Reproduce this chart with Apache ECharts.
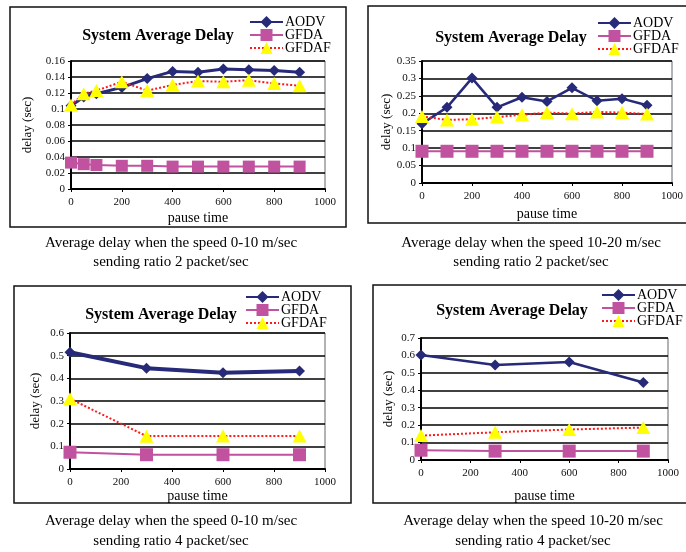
<!DOCTYPE html>
<html>
<head>
<meta charset="utf-8">
<script src="https://cdn.jsdelivr.net/npm/echarts@6/dist/echarts.min.js"></script>
<style>
  html, body { margin: 0; padding: 0; background: #fff; }
  #chart { width: 686px; height: 552px; }
</style>
</head>
<body>
<div id="chart"></div>
<script>
// Pause times (x values) for each scenario
const pause1 = [0, 50, 100, 200, 300, 400, 500, 600, 700, 800, 900];
const pause2 = [0, 100, 200, 300, 400, 500, 600, 700, 800, 900];
const pause3 = [0, 300, 600, 900];
const pause4 = [0, 300, 600, 900];

// Speed 0-10 m/sec, 2 packet/sec
const aodv1  = [0.104, 0.115, 0.119, 0.127, 0.138, 0.147, 0.146, 0.150, 0.149, 0.148, 0.146];
const gfda1  = [0.033, 0.031, 0.030, 0.029, 0.029, 0.028, 0.028, 0.028, 0.028, 0.028, 0.028];
const gfdaf1 = [0.105, 0.119, 0.123, 0.134, 0.123, 0.130, 0.135, 0.134, 0.136, 0.132, 0.129];

// Speed 10-20 m/sec, 2 packet/sec
const aodv2  = [0.170, 0.217, 0.301, 0.217, 0.246, 0.234, 0.273, 0.236, 0.242, 0.223];
const gfda2  = [0.091, 0.091, 0.091, 0.091, 0.091, 0.091, 0.091, 0.091, 0.091, 0.091];
const gfdaf2 = [0.191, 0.181, 0.183, 0.189, 0.196, 0.202, 0.199, 0.204, 0.202, 0.198];

// Speed 0-10 m/sec, 4 packet/sec
const aodv3  = [0.515, 0.445, 0.425, 0.432];
const gfda3  = [0.074, 0.063, 0.063, 0.063];
const gfdaf3 = [0.310, 0.145, 0.146, 0.146];

// Speed 10-20 m/sec, 4 packet/sec
const aodv4  = [0.602, 0.545, 0.562, 0.445];
const gfda4  = [0.056, 0.051, 0.051, 0.051];
const gfdaf4 = [0.140, 0.159, 0.175, 0.186];

// Axis ranges
const yMax      = [0.16, 0.35, 0.6, 0.7];
const yInterval = [0.02, 0.05, 0.1, 0.1];
const xMax = 1000, xInterval = 200;

const seriesNames = ['AODV', 'GFDA', 'GFDAF'];
const chartTitle = 'System Average Delay';
const xName = 'pause time';
const yName = 'delay (sec)';
const captions = [
  ['Average delay when the speed 0-10 m/sec', 'sending ratio 2 packet/sec'],
  ['Average delay when the speed 10-20 m/sec', 'sending ratio 2 packet/sec'],
  ['Average delay when the speed 0-10 m/sec', 'sending ratio 4 packet/sec'],
  ['Average delay when the speed 10-20 m/sec', 'sending ratio 4 packet/sec']
];

const panels = [
  { x: pause1, aodv: aodv1, gfda: gfda1, gfdaf: gfdaf1 },
  { x: pause2, aodv: aodv2, gfda: gfda2, gfdaf: gfdaf2 },
  { x: pause3, aodv: aodv3, gfda: gfda3, gfdaf: gfdaf3 },
  { x: pause4, aodv: aodv4, gfda: gfda4, gfdaf: gfdaf4 }
];

// Layout of each panel (pixels)
const grids = [
  { left: 71,  top: 61,  width: 254, height: 128 },
  { left: 422, top: 61,  width: 256, height: 122 },
  { left: 70,  top: 333, width: 255, height: 136 },
  { left: 421, top: 338, width: 247, height: 122 }
];
const frames = [
  { x: 10,  y: 7,   w: 336, h: 220 },
  { x: 368, y: 6,   w: 330, h: 217 },
  { x: 14,  y: 286, w: 337, h: 217 },
  { x: 373, y: 285, w: 330, h: 218 }
];
const titlePos  = [[153, 23], [506, 25], [156, 302], [507, 298]];
const legendPos = [[249, 15], [597, 16], [245, 290], [601, 288]];
const captionPos = [[171, 243, 262], [531, 243, 262], [171, 521, 541], [533, 521, 541]];
const xNameGap = [22, 24, 20, 29];
const yNameGap = [37, 27, 28, 26];
const aodvWidth = [3, 2.5, 4, 2.5];
const squareSize = [12, 13, 13, 13];

const SERIF = '"Liberation Serif", "Times New Roman", serif';
const NAVY = '#262a78', PINK = '#c0529f', RED = '#ff1a1a', YELLOW = '#ffff00';

const pairs = (xs, ys) => xs.map((x, i) => [x, ys[i]]);

const option = {
  animation: false,
  backgroundColor: '#fff',
  textStyle: { fontFamily: SERIF },
  grid: grids.map(g => Object.assign({ show: true, borderColor: '#666', borderWidth: 1 }, g)),
  title: titlePos.map(p => ({
    text: chartTitle, left: p[0], top: p[1], textAlign: 'center',
    textStyle: { fontFamily: SERIF, fontSize: 16, fontWeight: 'bold', color: '#000' }
  })),
  legend: legendPos.map(p => ({
    data: seriesNames, left: p[0], top: p[1], orient: 'vertical',
    itemWidth: 33, itemHeight: 15, itemGap: -1, padding: 0,
    selectedMode: false,
    textStyle: { fontFamily: SERIF, fontSize: 14, color: '#000', padding: [0, 0, 0, -3] }
  })),
  xAxis: grids.map((g, i) => ({
    type: 'value', gridIndex: i, min: 0, max: xMax, interval: xInterval,
    name: xName, nameLocation: 'middle', nameGap: xNameGap[i],
    nameTextStyle: { fontFamily: SERIF, fontSize: 14, color: '#000' },
    axisLine: { lineStyle: { color: '#000', width: 2 } },
    axisTick: { show: true, length: 3, lineStyle: { color: '#000' } },
    axisLabel: { fontFamily: SERIF, fontSize: 11, color: '#111', margin: 8, formatter: v => String(v) },
    splitLine: { show: false }
  })),
  yAxis: grids.map((g, i) => ({
    type: 'value', gridIndex: i, min: 0, max: yMax[i], interval: yInterval[i],
    name: yName, nameLocation: 'middle', nameGap: yNameGap[i],
    nameTextStyle: { fontFamily: SERIF, fontSize: 13, color: '#000' },
    axisLine: { show: true, lineStyle: { color: '#000', width: 2 } },
    axisTick: { show: true, length: 3, lineStyle: { color: '#000' } },
    axisLabel: { fontFamily: SERIF, fontSize: 11, color: '#111', margin: 6 },
    splitLine: { show: true, lineStyle: { color: '#000', width: 1.5 } }
  })),
  series: [],
  graphic: []
};

panels.forEach((p, i) => {
  option.series.push({
    name: 'AODV', type: 'line', xAxisIndex: i, yAxisIndex: i,
    data: pairs(p.x, p.aodv), symbol: 'diamond', symbolSize: 11,
    lineStyle: { color: NAVY, width: aodvWidth[i] },
    itemStyle: { color: NAVY }, z: 3
  });
  option.series.push({
    name: 'GFDA', type: 'line', xAxisIndex: i, yAxisIndex: i,
    data: pairs(p.x, p.gfda), symbol: 'rect', symbolSize: squareSize[i],
    lineStyle: { color: PINK, width: 2 },
    itemStyle: { color: PINK }, z: 2
  });
  option.series.push({
    name: 'GFDAF', type: 'line', xAxisIndex: i, yAxisIndex: i,
    data: pairs(p.x, p.gfdaf), symbol: 'triangle', symbolSize: [14, 13],
    lineStyle: { color: RED, width: 2, type: [2, 2] },
    itemStyle: { color: YELLOW, borderWidth: 0 }, z: 4
  });
});

frames.forEach(f => {
  option.graphic.push({
    type: 'rect', silent: true, z: -1,
    shape: { x: f.x, y: f.y, width: f.w, height: f.h },
    style: { fill: null, stroke: '#111', lineWidth: 1.5 }
  });
});

captions.forEach((c, i) => {
  const pos = captionPos[i];
  c.forEach((line, j) => {
    option.graphic.push({
      type: 'text', silent: true, x: pos[0], y: pos[j + 1],
      style: { text: line, font: '15px ' + SERIF, fill: '#000', textAlign: 'center', textVerticalAlign: 'middle' }
    });
  });
});

const chart = echarts.init(document.getElementById('chart'), null, { renderer: 'canvas' });
chart.setOption(option);
</script>
</body>
</html>
